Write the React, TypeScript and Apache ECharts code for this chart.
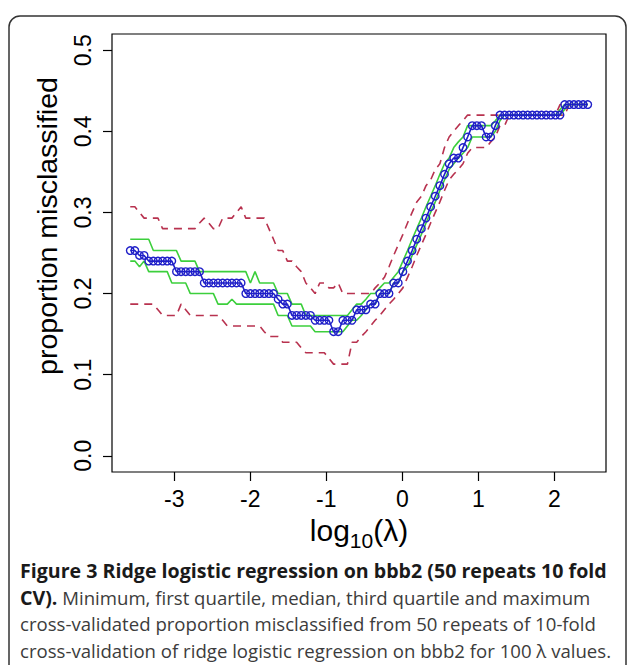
import React, { useEffect, useRef } from "react";
import * as echarts from "echarts";

// log10(lambda) grid: 100 lambda values, log-spaced
const LOG_LAMBDA_FIRST = -3.58;
const LOG_LAMBDA_LAST = 2.44;
const N_LAMBDA = 100;
const logLambda: number[] = Array.from(
  { length: N_LAMBDA },
  (_, i) => LOG_LAMBDA_FIRST + (i * (LOG_LAMBDA_LAST - LOG_LAMBDA_FIRST)) / (N_LAMBDA - 1)
);

const medianVals = [
  0.253, 0.253, 0.247, 0.247, 0.24, 0.24, 0.24, 0.24, 0.24, 0.24,
  0.227, 0.227, 0.227, 0.227, 0.227, 0.227, 0.213, 0.213, 0.213, 0.213,
  0.213, 0.213, 0.213, 0.213, 0.213, 0.2, 0.2, 0.2, 0.2, 0.2,
  0.2, 0.2, 0.193, 0.187, 0.187, 0.173, 0.173, 0.173, 0.173, 0.173,
  0.167, 0.167, 0.167, 0.167, 0.153, 0.153, 0.167, 0.167, 0.167, 0.18,
  0.18, 0.18, 0.187, 0.187, 0.2, 0.2, 0.2, 0.213, 0.213, 0.227,
  0.24, 0.253, 0.267, 0.28, 0.293, 0.307, 0.32, 0.333, 0.347, 0.36,
  0.367, 0.367, 0.38, 0.393, 0.407, 0.407, 0.407, 0.393, 0.393, 0.407,
  0.42, 0.42, 0.42, 0.42, 0.42, 0.42, 0.42, 0.42, 0.42, 0.42,
  0.42, 0.42, 0.42, 0.42, 0.433, 0.433, 0.433, 0.433, 0.433, 0.433,
];

const q3Vals = [
  0.267, 0.267, 0.267, 0.267, 0.267, 0.253, 0.253, 0.253, 0.253, 0.253,
  0.253, 0.24, 0.24, 0.24, 0.24, 0.227, 0.227, 0.227, 0.227, 0.227,
  0.227, 0.227, 0.227, 0.227, 0.227, 0.227, 0.213, 0.227, 0.213, 0.213,
  0.213, 0.213, 0.2, 0.2, 0.2, 0.187, 0.187, 0.187, 0.173, 0.173,
  0.173, 0.173, 0.173, 0.173, 0.173, 0.173, 0.173, 0.173, 0.18, 0.187,
  0.187, 0.193, 0.2, 0.2, 0.207, 0.213, 0.213, 0.22, 0.227, 0.24,
  0.253, 0.267, 0.28, 0.293, 0.307, 0.32, 0.333, 0.347, 0.36, 0.367,
  0.38, 0.387, 0.393, 0.407, 0.407, 0.407, 0.407, 0.407, 0.407, 0.413,
  0.42, 0.42, 0.42, 0.42, 0.42, 0.42, 0.42, 0.42, 0.42, 0.42,
  0.42, 0.42, 0.42, 0.427, 0.433, 0.433, 0.433, 0.433, 0.433, 0.433,
];

const q1Vals = [
  0.24, 0.24, 0.233, 0.24, 0.227, 0.227, 0.227, 0.227, 0.227, 0.213,
  0.213, 0.213, 0.213, 0.2, 0.2, 0.2, 0.2, 0.2, 0.2, 0.187,
  0.187, 0.187, 0.193, 0.187, 0.187, 0.187, 0.187, 0.187, 0.187, 0.187,
  0.187, 0.187, 0.173, 0.173, 0.173, 0.16, 0.16, 0.16, 0.16, 0.16,
  0.153, 0.153, 0.153, 0.153, 0.153, 0.153, 0.153, 0.16, 0.167, 0.167,
  0.173, 0.18, 0.187, 0.187, 0.2, 0.2, 0.2, 0.213, 0.213, 0.227,
  0.233, 0.247, 0.26, 0.273, 0.287, 0.3, 0.313, 0.327, 0.34, 0.353,
  0.36, 0.367, 0.373, 0.38, 0.393, 0.393, 0.393, 0.393, 0.393, 0.4,
  0.413, 0.42, 0.42, 0.42, 0.42, 0.42, 0.42, 0.42, 0.42, 0.42,
  0.42, 0.42, 0.42, 0.42, 0.427, 0.433, 0.433, 0.433, 0.433, 0.433,
];

const maxVals = [
  0.307, 0.307, 0.3, 0.293, 0.293, 0.293, 0.293, 0.28, 0.28, 0.28,
  0.28, 0.28, 0.28, 0.28, 0.28, 0.287, 0.293, 0.287, 0.28, 0.28,
  0.293, 0.293, 0.293, 0.3, 0.307, 0.293, 0.293, 0.293, 0.293, 0.293,
  0.28, 0.267, 0.253, 0.253, 0.24, 0.24, 0.233, 0.227, 0.213, 0.207,
  0.2, 0.213, 0.213, 0.207, 0.207, 0.213, 0.2, 0.2, 0.2, 0.2,
  0.2, 0.2, 0.2, 0.207, 0.213, 0.22, 0.233, 0.247, 0.26, 0.273,
  0.287, 0.3, 0.313, 0.32, 0.333, 0.34, 0.353, 0.36, 0.38, 0.393,
  0.4, 0.407, 0.413, 0.42, 0.42, 0.42, 0.42, 0.42, 0.42, 0.42,
  0.42, 0.42, 0.42, 0.42, 0.42, 0.42, 0.42, 0.42, 0.42, 0.42,
  0.42, 0.42, 0.42, 0.433, 0.433, 0.433, 0.433, 0.433, 0.433, 0.433,
];

const minVals = [
  0.187, 0.187, 0.187, 0.187, 0.187, 0.187, 0.18, 0.173, 0.173, 0.173,
  0.173, 0.187, 0.18, 0.173, 0.173, 0.173, 0.173, 0.173, 0.173, 0.173,
  0.167, 0.16, 0.16, 0.16, 0.16, 0.16, 0.16, 0.16, 0.16, 0.153,
  0.147, 0.147, 0.147, 0.14, 0.14, 0.14, 0.14, 0.133, 0.127, 0.127,
  0.127, 0.127, 0.127, 0.12, 0.113, 0.113, 0.113, 0.113, 0.14, 0.14,
  0.147, 0.153, 0.16, 0.167, 0.173, 0.18, 0.187, 0.193, 0.2, 0.207,
  0.22, 0.233, 0.247, 0.26, 0.273, 0.287, 0.3, 0.313, 0.327, 0.34,
  0.347, 0.353, 0.36, 0.373, 0.38, 0.38, 0.38, 0.38, 0.387, 0.393,
  0.407, 0.407, 0.42, 0.42, 0.42, 0.42, 0.42, 0.42, 0.42, 0.42,
  0.42, 0.42, 0.42, 0.42, 0.42, 0.433, 0.433, 0.433, 0.433, 0.433,
];

const xTicks = [-3, -2, -1, 0, 1, 2];
const yTicks = [0, 0.1, 0.2, 0.3, 0.4, 0.5];

const yTitle = "proportion misclassified";
const captionLine1 = "Figure 3 Ridge logistic regression on bbb2 (50 repeats 10 fold";
const captionLine2Bold = "CV).";
const captionLine2 = " Minimum, first quartile, median, third quartile and maximum";
const captionLine3 = "cross-validated proportion misclassified from 50 repeats of 10-fold";
const captionLine4 = "cross-validation of ridge logistic regression on bbb2 for 100 λ values.";

const AXIS_FONT = "'Liberation Sans', Arial, sans-serif";
const CAP_FONT = "'Open Sans', 'Noto Sans', sans-serif";
const CAP_BOLD = `bold 19.6px ${CAP_FONT}`;
const CAP_REG = `18.6px ${CAP_FONT}`;

function pairs(vals: number[]) {
  return vals.map((v, i) => [logLambda[i], v]);
}

function measure(text: string, font: string) {
  const c = document.createElement("canvas").getContext("2d");
  if (!c) return text.length * 10;
  c.font = font;
  return c.measureText(text).width;
}

export default function App() {
  const ref = useRef<HTMLDivElement>(null);
  useEffect(() => {
    document.body.style.margin = "0";
    if (!ref.current) return;
    const chart = echarts.init(ref.current, undefined, { renderer: "svg" });

    const green = "#3ccf3c";
    const red = "#b8324f";
    const blue = "#1f1fc8";

    const dashed = (name: string, vals: number[]) => ({
      name,
      type: "line",
      data: pairs(vals),
      showSymbol: false,
      silent: true,
      lineStyle: { color: red, width: 1.6, type: [8, 6] },
      z: 2,
    });
    const solid = (name: string, vals: number[]) => ({
      name,
      type: "line",
      data: pairs(vals),
      showSymbol: false,
      silent: true,
      lineStyle: { color: green, width: 1.6 },
      z: 3,
    });

    // x title pieces
    const bigFont = `30px ${AXIS_FONT}`;
    const subFont = `21px ${AXIS_FONT}`;
    const wLog = measure("log", bigFont);
    const wSub = measure("10", subFont);
    const wPar = measure("(λ)", bigFont);
    const total = wLog + wSub + wPar;
    const xStart = 359 - total / 2;
    const titleY = 530;

    chart.setOption({
      animation: false,
      grid: {
        left: 112,
        top: 34,
        width: 494,
        height: 438,
        show: true,
        borderColor: "#000",
        borderWidth: 1.2,
        containLabel: false,
      },
      xAxis: {
        type: "value",
        position: "bottom",
        min: -3.82,
        max: 2.68,
        axisLine: { show: false, onZero: false },
        splitLine: { show: false },
        axisTick: {
          show: true,
          customValues: xTicks,
          length: 9,
          inside: false,
          lineStyle: { color: "#000", width: 1.2 },
        },
        axisLabel: {
          customValues: xTicks,
          margin: 15,
          fontSize: 23,
          fontFamily: AXIS_FONT,
          color: "#000",
          formatter: (v: number) => String(v),
        },
      },
      yAxis: {
        type: "value",
        position: "left",
        min: -0.02,
        max: 0.52,
        axisLine: { show: false, onZero: false },
        splitLine: { show: false },
        axisTick: {
          show: true,
          customValues: yTicks,
          length: 9,
          inside: false,
          lineStyle: { color: "#000", width: 1.2 },
        },
        axisLabel: {
          customValues: yTicks,
          rotate: 90,
          margin: 18,
          fontSize: 23,
          fontFamily: AXIS_FONT,
          color: "#000",
          formatter: (v: number) => v.toFixed(1),
        },
      },
      series: [
        dashed("maximum", maxVals),
        dashed("minimum", minVals),
        solid("third quartile", q3Vals),
        solid("first quartile", q1Vals),
        {
          name: "median",
          type: "line",
          data: pairs(medianVals),
          symbol: "circle",
          symbolSize: 7.5,
          showSymbol: true,
          silent: true,
          lineStyle: { color: blue, width: 1.6 },
          itemStyle: { color: "rgba(255,255,255,0)", borderColor: blue, borderWidth: 1.4 },
          z: 4,
        },
      ],
      graphic: [
        {
          type: "rect",
          shape: { x: 9, y: 16, width: 617, height: 720, r: 11 },
          style: { fill: "none", stroke: "#333", lineWidth: 1.5 },
          silent: true,
        },
        {
          type: "text",
          x: 47,
          y: 226,
          rotation: Math.PI / 2,
          style: {
            text: yTitle,
            font: `28.5px ${AXIS_FONT}`,
            fill: "#000",
            align: "center",
            verticalAlign: "middle",
          },
        },
        {
          type: "text",
          x: xStart,
          y: titleY,
          style: { text: "log", font: bigFont, fill: "#000", align: "left", verticalAlign: "middle" },
        },
        {
          type: "text",
          x: xStart + wLog,
          y: titleY + 10,
          style: { text: "10", font: subFont, fill: "#000", align: "left", verticalAlign: "middle" },
        },
        {
          type: "text",
          x: xStart + wLog + wSub,
          y: titleY,
          style: { text: "(λ)", font: bigFont, fill: "#000", align: "left", verticalAlign: "middle" },
        },
        {
          type: "text",
          x: 20,
          y: 570,
          style: {
            text: captionLine1,
            font: CAP_BOLD,
            fill: "#1a1a1a",
            align: "left",
            verticalAlign: "middle",
          },
        },
        {
          type: "text",
          x: 20,
          y: 597,
          style: {
            text: `{b|${captionLine2Bold}}{r|${captionLine2}}`,
            align: "left",
            verticalAlign: "middle",
            rich: {
              b: { font: CAP_BOLD, fill: "#1a1a1a" },
              r: { font: CAP_REG, fill: "#3c3c3c" },
            },
          },
        },
        {
          type: "text",
          x: 20,
          y: 623,
          style: {
            text: captionLine3,
            font: CAP_REG,
            fill: "#3c3c3c",
            align: "left",
            verticalAlign: "middle",
          },
        },
        {
          type: "text",
          x: 20,
          y: 650,
          style: {
            text: captionLine4,
            font: CAP_REG,
            fill: "#3c3c3c",
            align: "left",
            verticalAlign: "middle",
          },
        },
      ],
    });

    return () => chart.dispose();
  }, []);

  return <div ref={ref} style={{ width: 629, height: 665 }} />;
}
